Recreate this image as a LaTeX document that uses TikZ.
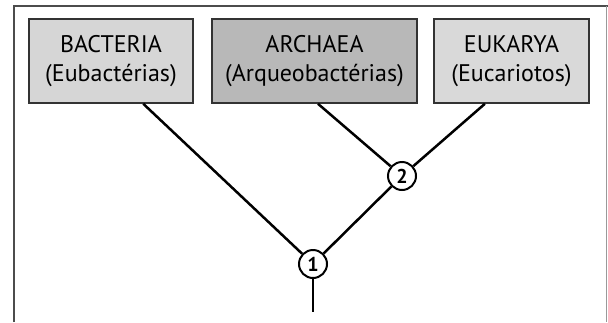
\documentclass[tikz,border=0pt]{standalone}
\usepackage{fontspec}
\setmainfont{PT Sans}
\usetikzlibrary{calc}
\begin{document}
\begin{tikzpicture}[x=1pt,y=-1pt,
  taxon/.style={draw=black!80,line width=1.6pt,minimum height=84pt,align=center,
    font=\fontsize{24}{29}\selectfont,inner sep=0pt},
  branch/.style={line width=2.5pt,black},
  split/.style={circle,draw,line width=2pt,fill=white,minimum size=28pt,inner sep=0pt,
    font=\bfseries\fontsize{20}{20}\selectfont}]
\useasboundingbox (0,0) rectangle (608,322);
\draw[black!70,line width=1.6pt] (14,322) -- (14,6) -- (608,6);
\draw[black!40,line width=0.8pt] (606,6) -- (606,322);
\node[taxon,fill=black!16,minimum width=164pt] (bac) at (111,61) {BACTERIA\\(Eubactérias)};
\node[taxon,fill=black!28,minimum width=205pt] (arc) at (314.5,61) {ARCHAEA\\(Arqueobactérias)};
\node[taxon,fill=black!15,minimum width=155pt] (euk) at (511.5,61) {EUKARYA\\(Eucariotos)};
\node[split] (n1) at (313,264) {1};
\node[split] (n2) at (402,176) {2};
\coordinate (root) at (313,312);
\draw[branch] ($(bac.south west)!0.695!(bac.south east)$) -- (n1);
\draw[branch] ($(arc.south west)!0.517!(arc.south east)$) -- (n2);
\draw[branch] ($(euk.south west)!0.33!(euk.south east)$) -- (n2);
\draw[branch] (n2) -- (n1);
\draw[branch] (n1) -- (root);
\end{tikzpicture}
\end{document}
